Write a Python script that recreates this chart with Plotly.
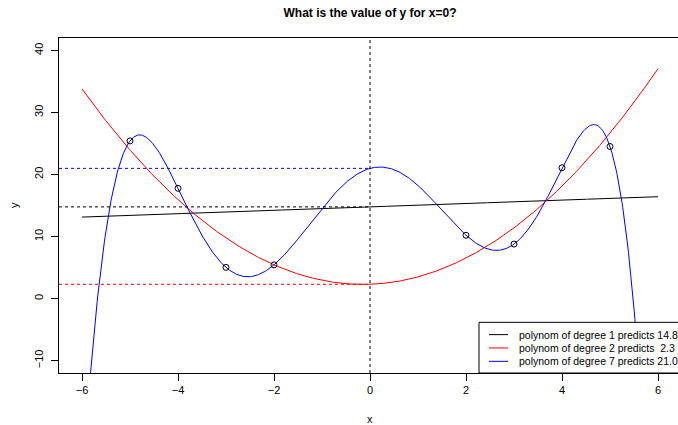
import numpy as np
import plotly.graph_objects as go

# observed points
x_obs = [-5, -4, -3, -2, 2, 3, 4, 5]
y_obs = [25.41, 17.77, 5.02, 5.43, 10.20, 8.78, 21.08, 24.51]

# quadratic model coefficients (highest power first)
quad_coef = [0.92, 0.273, 2.3]

degrees = [1, 2, 7]
colors = ["black", "red", "blue"]
x_query = 0.0

FONT = "Liberation Sans, Arial, Helvetica, sans-serif"

xs = np.linspace(-6, 6, 801)
models = [
    np.polyfit(x_obs, y_obs, 1),
    np.array(quad_coef),
    np.polyfit(x_obs, y_obs, 7),
]
preds = [float(np.polyval(c, x_query)) for c in models]

XMIN, XMAX = -6.48, 6.4167
YMIN, YMAX = -12, 42

fig = go.Figure()

for c, col in zip(models, colors):
    fig.add_trace(go.Scatter(x=xs, y=np.polyval(c, xs), mode="lines",
                             line=dict(color=col, width=1), hoverinfo="skip"))

fig.add_trace(go.Scatter(x=x_obs, y=y_obs, mode="markers",
                         marker=dict(symbol="circle-open", size=6, color="black",
                                     line=dict(width=1, color="black")),
                         cliponaxis=False))

shapes = []
# vertical reference at the query point
shapes.append(dict(type="line", xref="x", yref="y", x0=x_query, x1=x_query,
                   y0=YMIN, y1=YMAX, line=dict(color="black", width=1, dash="3px,3px")))
# horizontal lines at each prediction
for p, col in zip(preds, colors):
    shapes.append(dict(type="line", xref="x", yref="y", x0=XMIN, x1=x_query,
                       y0=p, y1=p, line=dict(color=col, width=1, dash="3px,3px")))

# legend box (bottom right)
def px_x(px):
    return (px - 370) / 48.0

def px_y(py):
    return (298.9 - py) / 6.206

shapes.append(dict(type="rect", xref="x", yref="y", x0=px_x(479), x1=6.6,
                   y0=YMIN, y1=px_y(322.7), line=dict(color="black", width=1),
                   fillcolor="white", layer="above"))

annotations = []
rows_py = [335, 348.3, 361.7]
for d, p, col, py in zip(degrees, preds, colors, rows_py):
    shapes.append(dict(type="line", xref="x", yref="y", x0=px_x(489), x1=px_x(508),
                       y0=px_y(py), y1=px_y(py), line=dict(color=col, width=1),
                       layer="above"))
    label = f"polynom of degree {d} predicts {p:4.1f}".replace(" ", "\u00a0")
    annotations.append(dict(x=px_x(517), y=px_y(py), xref="x", yref="y", text=label,
                            showarrow=False, xanchor="left", yanchor="middle",
                            font=dict(family=FONT, size=10.5, color="black")))

# axis titles
annotations.append(dict(x=(370 - 59) / 619, y=(373 - 419) / 335, xref="paper", yref="paper",
                        text="x", showarrow=False, xanchor="center", yanchor="middle",
                        font=dict(family=FONT, size=11, color="black")))
annotations.append(dict(x=(14 - 59) / 619, y=(373 - 205) / 335, xref="paper", yref="paper",
                        text="y", showarrow=False, textangle=-90, xanchor="center",
                        yanchor="middle", font=dict(family=FONT, size=11, color="black")))

fig.update_layout(
    width=678, height=425,
    margin=dict(l=59, r=0, t=38, b=52),
    paper_bgcolor="white", plot_bgcolor="white",
    showlegend=False,
    title=dict(text="<b>What is the value of y for x=0?</b>", x=370 / 678, y=1 - 13 / 425,
               xanchor="center", yanchor="middle", xref="container", yref="container",
               font=dict(family=FONT, size=12, color="black")),
    shapes=shapes,
    annotations=annotations,
    font=dict(family=FONT, size=11, color="black"),
)

fig.update_xaxes(range=[XMIN, XMAX], tickvals=[-6, -4, -2, 0, 2, 4, 6],
                 ticks="outside", ticklen=7, tickcolor="black", tickwidth=1,
                 showline=True, linecolor="black", linewidth=1, mirror=True,
                 showgrid=False, zeroline=False,
                 tickfont=dict(family=FONT, size=11, color="black"))
fig.update_yaxes(range=[YMIN, YMAX], tickvals=[-10, 0, 10, 20, 30, 40],
                 ticks="outside", ticklen=7, tickcolor="black", tickwidth=1,
                 showline=True, linecolor="black", linewidth=1, mirror=False,
                 showgrid=False, zeroline=False, tickangle=-90, ticklabelstandoff=4,
                 tickfont=dict(family=FONT, size=11, color="black"))

fig.write_html("out.html")
